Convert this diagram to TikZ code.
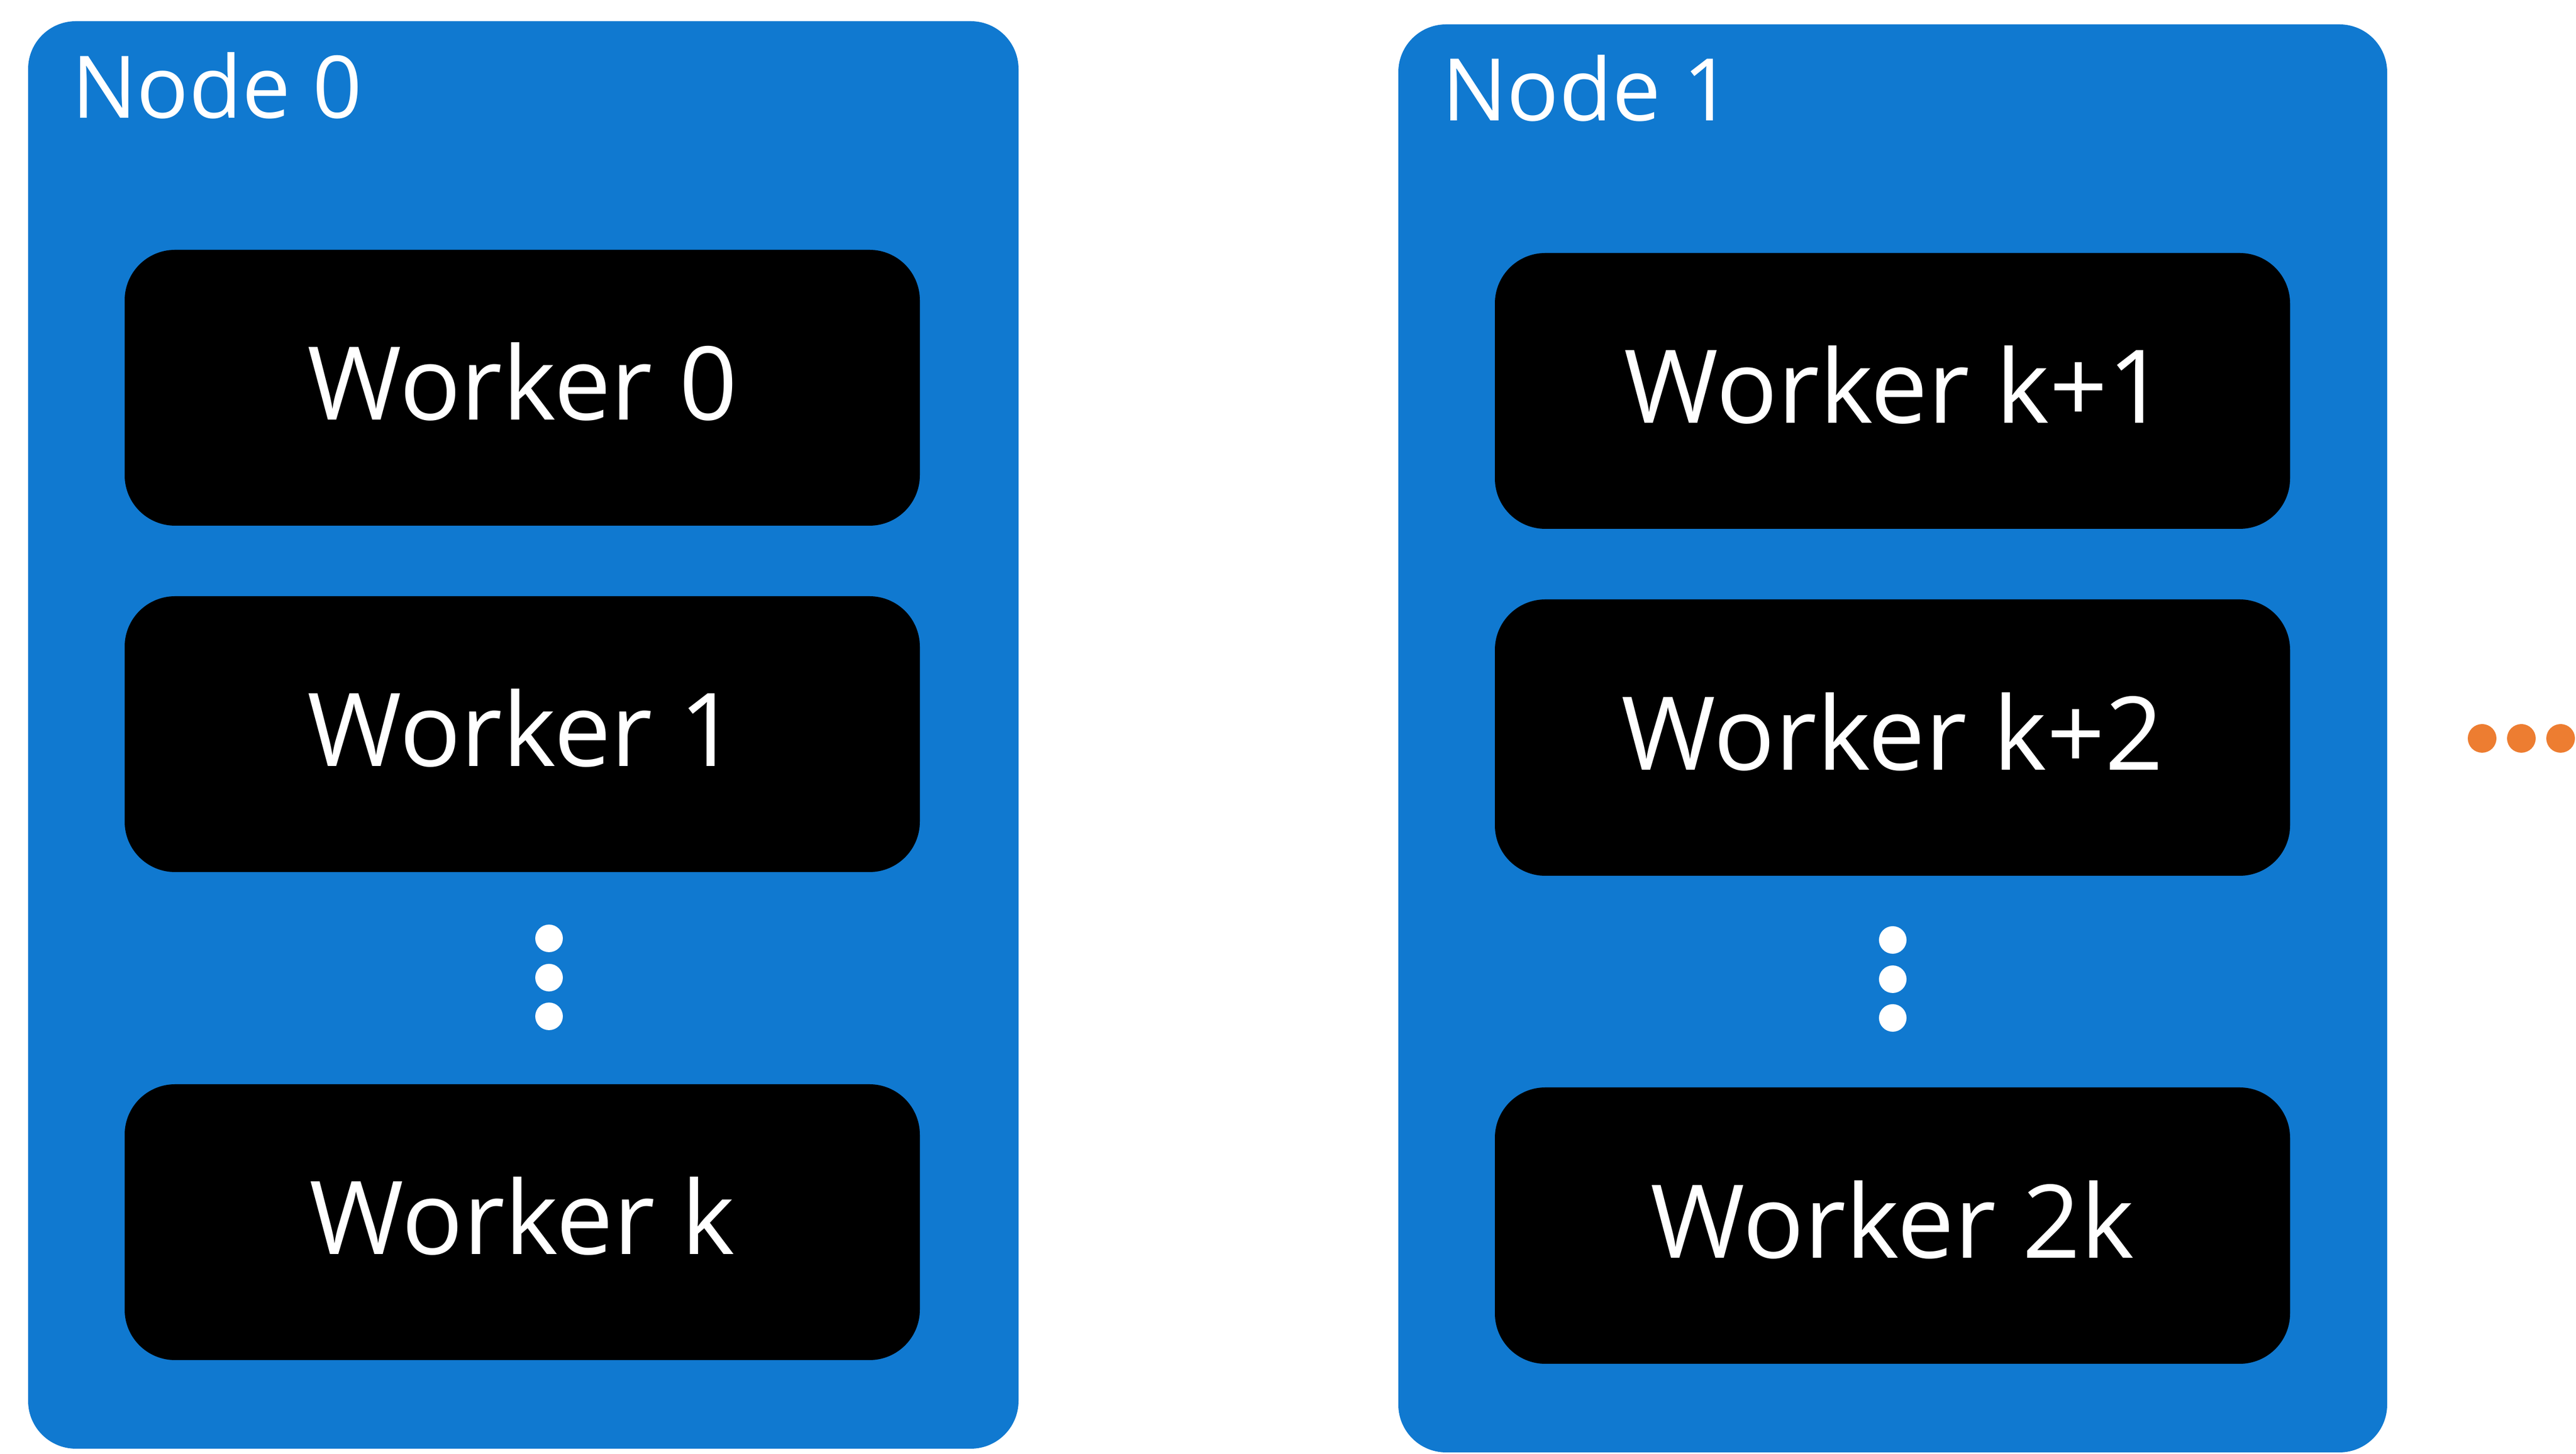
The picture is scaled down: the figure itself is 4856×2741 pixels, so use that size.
\documentclass[tikz,border=0pt]{standalone}
\usepackage{fontspec}
\setmainfont{Open Sans}
\definecolor{nodeblue}{RGB}{16,121,208}
\definecolor{dotorange}{RGB}{237,125,49}
\begin{document}
\begin{tikzpicture}[x=0.1pt,y=-0.1pt,
  hostbox/.style={fill=nodeblue,rounded corners=9pt},
  workerbox/.style={fill=black,rounded corners=9.5pt},
  hostlabel/.style={anchor=base west,inner sep=0pt,text=white,font=\fontsize{16.3pt}{18pt}\selectfont},
  workerlabel/.style={anchor=base,inner sep=0pt,text=white,font=\fontsize{19.2pt}{22pt}\selectfont},
  vdot/.style={fill=white},
  hdot/.style={fill=dotorange}]
\useasboundingbox (0,0) rectangle (4856,2741);
% Node 0
\path[hostbox] (53,40) rectangle (1920,2731);
\node[hostlabel] (n0) at (133,223) {Node 0};
\path[workerbox] (235,471) rectangle (1734,991);
\node[workerlabel] (w0) at (984.5,792) {Worker 0};
\path[workerbox] (235,1124) rectangle (1734,1644);
\node[workerlabel] (w1) at (984.5,1445) {Worker 1};
\path[workerbox] (235,2044) rectangle (1734,2564);
\node[workerlabel] (wk) at (984.5,2365) {Worker k};
\path[vdot] (1035,1769) circle[radius=26] (1035,1843) circle[radius=26] (1035,1916) circle[radius=26];
% Node 1
\path[hostbox] (2636,46) rectangle (4500,2738);
\node[hostlabel] (n1) at (2716,228) {Node 1};
\path[workerbox] (2818,477) rectangle (4317,997);
\node[workerlabel] (wk1) at (3572.5,798) {Worker k+1};
\path[workerbox] (2818,1130) rectangle (4317,1651);
\node[workerlabel] (wk2) at (3567.5,1452) {Worker k+2};
\path[workerbox] (2818,2050) rectangle (4317,2571);
\node[workerlabel] (w2k) at (3567.5,2372) {Worker 2k};
\path[vdot] (3568,1772) circle[radius=26] (3568,1846) circle[radius=26] (3568,1919) circle[radius=26];
% more nodes
\path[hdot] (4679,1392) circle[radius=27] (4753,1392) circle[radius=27] (4827,1392) circle[radius=27];
\end{tikzpicture}
\end{document}
